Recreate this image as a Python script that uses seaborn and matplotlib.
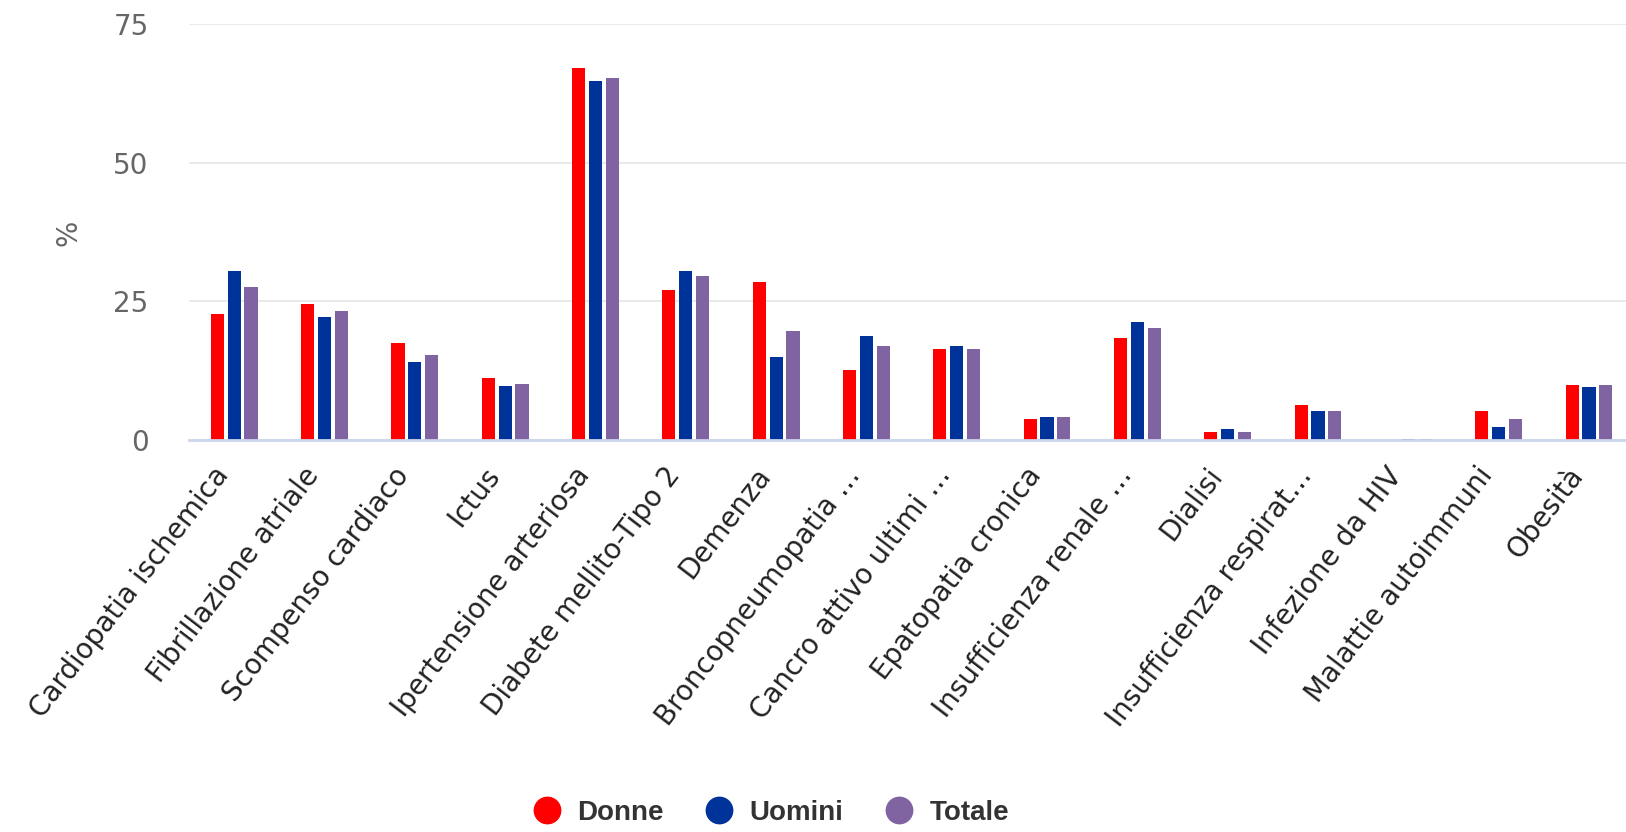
import pandas as pd
import matplotlib.pyplot as plt
import matplotlib.transforms as mtransforms
import seaborn as sns
from matplotlib.lines import Line2D

categorie = [
    "Cardiopatia ischemica", "Fibrillazione atriale", "Scompenso cardiaco", "Ictus",
    "Ipertensione arteriosa", "Diabete mellito-Tipo 2", "Demenza", "Broncopneumopatia …",
    "Cancro attivo ultimi …", "Epatopatia cronica", "Insufficienza renale …", "Dialisi",
    "Insufficienza respirat…", "Infezione da HIV", "Malattie autoimmuni", "Obesità",
]
donne = [22.8, 24.6, 17.4, 11.2, 67.0, 27.0, 28.5, 12.6, 16.4, 3.8, 18.4, 1.4, 6.3, 0.0, 5.2, 10.0]
uomini = [30.4, 22.2, 14.0, 9.7, 64.8, 30.4, 14.9, 18.8, 16.9, 4.2, 21.3, 1.9, 5.2, 0.1, 2.3, 9.6]
totale = [27.5, 23.3, 15.4, 10.1, 65.3, 29.5, 19.7, 16.9, 16.4, 4.2, 20.2, 1.4, 5.2, 0.1, 3.7, 10.0]
serie = ["Donne", "Uomini", "Totale"]
colori = ["#ff0000", "#003399", "#8064a2"]
yticks = [0, 25, 50, 75]

df = pd.DataFrame({
    "categoria": categorie * 3,
    "valore": donne + uomini + totale,
    "sesso": [s for s in serie for _ in categorie],
})

sns.set_theme(style="white")
plt.rcParams["font.family"] = ["DejaVu Sans"]

fig = plt.figure(figsize=(16.26, 8.32), dpi=100)
ax = fig.add_axes([189 / 1626, 1 - 440 / 832, 1 - 189 / 1626, 416 / 832])

sns.barplot(data=df, x="categoria", y="valore", hue="sesso", palette=colori,
            width=0.56, gap=0.22, errorbar=None, ax=ax, legend=False,
            linewidth=0, saturation=1)

ax.set_ylim(0, 75)
ax.set_xlim(-0.5, 15.41)
ax.set_yticks(yticks)
ax.yaxis.grid(True, color="#e6e6e6", linewidth=1.2)
ax.set_axisbelow(True)
for s in ["top", "right", "left"]:
    ax.spines[s].set_visible(False)
ax.spines["bottom"].set_color("#ccd6eb")
ax.spines["bottom"].set_linewidth(2)
ax.set_xlabel("")
ax.set_ylabel("")
ax.tick_params(axis="y", length=0, pad=29, labelsize=20, labelcolor="#666666")
ax.tick_params(axis="x", length=0, pad=22, labelsize=20, labelcolor="#222222")
ax.set_xticks(range(len(categorie)))
ax.set_xticklabels(categorie, rotation=52.5, ha="right", va="center", rotation_mode="anchor")
shift = mtransforms.ScaledTranslation(-0.11, 0, fig.dpi_scale_trans)
for lab in ax.get_xticklabels():
    lab.set_transform(lab.get_transform() + shift)

fig.text(68 / 1626, 1 - 233 / 832, "%", rotation=90, ha="center", va="center",
         fontsize=20, color="#666666")

handles = [Line2D([], [], linestyle="none", marker="o", markersize=19,
                  markerfacecolor=c, markeredgecolor=c) for c in colori]
leg = fig.legend(handles, serie, loc="center", bbox_to_anchor=(764 / 1626, 1 - 813 / 832),
                 ncol=3, frameon=False, handletextpad=0.1, columnspacing=1.0,
                 prop={"family": "Liberation Sans", "weight": "bold", "size": 20})
for t in leg.get_texts():
    t.set_color("#333333")

fig.savefig("out.png", dpi=100)
